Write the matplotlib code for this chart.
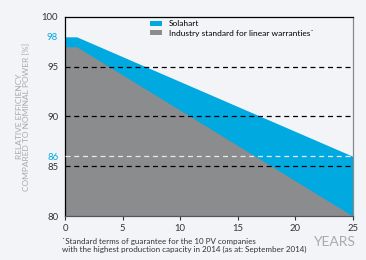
import matplotlib
matplotlib.use("Agg")
import matplotlib.pyplot as plt

years = [0, 1, 25]
solahart = [98, 98, 86]
industry = [97, 97, 80]
xticks = [0, 5, 10, 15, 20, 25]
yticks = [80, 85, 86, 90, 95, 98, 100]
dashed_black = [85, 90, 95]
dashed_white = [86]

plt.rcParams['font.family'] = ['Lato', 'DejaVu Sans']
bg = '#f3f4f8'
blue = '#00a9e0'
grey = '#8a8c8e'

fig = plt.figure(figsize=(3.66, 2.60), dpi=100, facecolor=bg)
ax = fig.add_axes([0.178, 0.169, 0.786, 0.766], facecolor=bg)

ax.fill_between(years, 80, solahart, color=blue, lw=0, label='Solahart', zorder=1)
ax.fill_between(years, 80, industry, color=grey, lw=0,
                label='Industry standard for linear warranties\u02d9', zorder=2)
for v in dashed_black:
    ax.axhline(v, color='black', ls=(0, (4, 3)), lw=0.9, zorder=3)
for v in dashed_white:
    ax.axhline(v, color='#e8e8e8', ls=(0, (4, 3)), lw=0.9, zorder=3)

ax.set_xlim(0, 25)
ax.set_ylim(80, 100)
ax.set_xticks(xticks)
ax.set_yticks(yticks)
ax.set_yticklabels([str(v) for v in yticks])
ax.tick_params(axis='both', labelsize=6.8, colors='#333333', length=3, width=0.8)
ax.tick_params(axis='x', pad=3)
for lab, v in zip(ax.get_yticklabels(), yticks):
    if v in (98, 86):
        lab.set_color(blue)
ax.tick_params(axis='y', length=0, pad=5)

ax.spines['left'].set_color('black')
ax.spines['top'].set_color('black')
ax.spines['right'].set_color('#888888')
ax.spines['bottom'].set_color('#555555')
for s in ax.spines.values():
    s.set_linewidth(0.9)

ax.set_ylabel('RELATIVE EFFICIENCY\nCOMPARED TO NOMINAL POWER [%]', fontsize=6,
              color='#aaaaaa', labelpad=8, linespacing=1.1)

leg = ax.legend(loc='upper left', bbox_to_anchor=(0.27, 1.02), frameon=False,
                fontsize=6, handlelength=1.4, handleheight=0.4, labelspacing=0.25)
for h in leg.legend_handles:
    h.set_height(3)

fig.text(0.855, 0.068, 'YEARS', fontsize=10, color='#aaaaaa', va='center')
fig.text(0.17, 0.086, '\u02d9Standard terms of guarantee for the 10 PV companies\nwith the highest production capacity in 2014 (as at: September 2014)',
         fontsize=5.8, color='#333333', linespacing=1.25, va='top')

fig.savefig('out.png', dpi=100, facecolor=bg)
